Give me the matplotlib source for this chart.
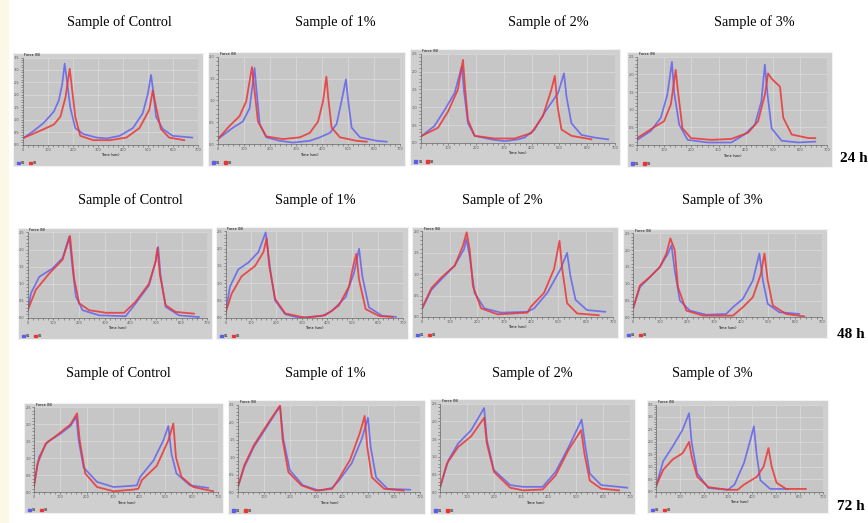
import matplotlib
matplotlib.use('Agg')
import matplotlib.pyplot as plt
from matplotlib.patches import Rectangle, Patch

# Curve readings: (time, relative force) pairs, S1 = blue, S2 = red
s1_24_ctrl = [(7, 8), (46, 16), (85, 25), (125, 38), (145, 51), (158, 69), (168, 93), (177, 73), (190, 43),
              (210, 19), (243, 12), (295, 8), (335, 7), (387, 10), (440, 19), (479, 36), (499, 58), (512, 80),
              (519, 65), (532, 32), (558, 18), (598, 10), (676, 8)]
s2_24_ctrl = [(7, 8), (72, 16), (125, 23), (151, 32), (171, 54), (188, 87), (197, 65), (210, 32), (230, 10),
              (282, 5), (348, 5), (414, 8), (466, 19), (505, 40), (519, 62), (532, 43), (551, 18), (584, 8), (644, 5)]
s1_24_1 = [(0, 6), (58, 19), (96, 26), (122, 41), (135, 72), (141, 87), (148, 63), (161, 23), (186, 8), (238, 4),
           (289, 2), (353, 4), (392, 8), (430, 13), (456, 23), (475, 49), (492, 74), (501, 49), (514, 19), (546, 8),
           (610, 4), (649, 3)]
s2_24_1 = [(0, 6), (45, 21), (83, 32), (109, 49), (122, 72), (131, 88), (141, 61), (154, 26), (186, 9), (250, 6),
           (315, 8), (353, 13), (385, 26), (404, 49), (417, 77), (424, 53), (437, 19), (469, 8), (533, 4), (572, 3)]
s1_24_2 = [(5, 8), (50, 19), (87, 37), (123, 56), (149, 86), (156, 60), (171, 22), (195, 8), (255, 4), (303, 2),
           (351, 4), (375, 6), (411, 15), (447, 34), (496, 56), (517, 78), (526, 52), (544, 22), (580, 9), (628, 6),
           (676, 4)]
s2_24_2 = [(5, 8), (63, 17), (99, 35), (135, 60), (153, 93), (161, 60), (171, 26), (195, 8), (267, 5), (339, 5),
           (399, 11), (441, 30), (472, 60), (484, 75), (494, 41), (508, 15), (544, 8), (616, 4)]
s1_24_3 = [(0, 6), (50, 16), (87, 31), (111, 57), (128, 94), (136, 60), (155, 23), (186, 6), (260, 3), (347, 3),
           (396, 12), (434, 23), (458, 49), (471, 91), (481, 57), (496, 19), (533, 5), (595, 3), (657, 4)]
s2_24_3 = [(0, 8), (50, 18), (99, 27), (124, 46), (142, 85), (149, 64), (167, 19), (198, 8), (273, 6), (347, 7),
           (409, 14), (446, 27), (471, 57), (483, 81), (496, 75), (527, 66), (539, 31), (570, 12), (632, 8), (657, 8)]

s1_48_ctrl = [(0, 9), (13, 29), (45, 48), (97, 58), (136, 70), (162, 95), (175, 58), (188, 25), (214, 9), (279, 3),
              (382, 2), (421, 17), (473, 38), (499, 66), (509, 83), (518, 50), (538, 13), (590, 3), (668, 1)]
s2_48_ctrl = [(0, 9), (32, 33), (84, 52), (136, 68), (165, 96), (181, 46), (201, 17), (240, 9), (305, 6), (376, 6),
              (421, 19), (473, 40), (499, 66), (506, 82), (516, 50), (538, 15), (577, 7), (648, 5)]
s1_48_1 = [(0, 6), (17, 36), (50, 56), (90, 64), (129, 76), (158, 99), (176, 56), (195, 20), (235, 4), (288, 0),
           (380, 2), (420, 8), (473, 24), (506, 52), (526, 80), (539, 48), (565, 12), (618, 2), (671, 1)]
s2_48_1 = [(0, 6), (24, 28), (63, 48), (116, 60), (149, 76), (162, 92), (172, 60), (195, 22), (235, 5), (314, 0),
           (394, 3), (446, 14), (486, 36), (506, 64), (515, 74), (526, 44), (552, 10), (605, 2), (658, 1)]
s1_48_2 = [(0, 10), (34, 32), (70, 44), (119, 60), (153, 79), (162, 91), (174, 71), (192, 28), (228, 10), (289, 5),
           (386, 6), (411, 10), (459, 28), (508, 56), (532, 75), (544, 48), (563, 20), (605, 8), (672, 6)]
s2_48_2 = [(0, 11), (34, 34), (70, 46), (119, 60), (149, 83), (163, 99), (174, 79), (186, 36), (216, 10), (277, 3),
           (386, 5), (399, 12), (447, 28), (484, 56), (504, 89), (514, 56), (532, 16), (569, 4), (648, 2)]
s1_48_3 = [(0, 11), (25, 36), (62, 48), (99, 60), (129, 76), (142, 86), (154, 56), (173, 20), (210, 8), (271, 3),
           (345, 4), (370, 12), (407, 22), (444, 44), (468, 76), (481, 44), (499, 16), (542, 6), (616, 4)]
s2_48_3 = [(0, 11), (25, 38), (62, 48), (99, 60), (123, 76), (138, 94), (154, 80), (166, 36), (197, 8), (259, 2),
           (370, 2), (407, 12), (444, 24), (474, 52), (487, 76), (499, 44), (518, 14), (567, 4), (635, 1)]

s1_72_ctrl = [(0, 8), (19, 41), (50, 59), (101, 69), (139, 78), (161, 89), (170, 61), (189, 29), (240, 12), (303, 6),
              (353, 7), (391, 8), (404, 18), (454, 37), (492, 61), (511, 78), (523, 45), (542, 22), (593, 8), (662, 5)]
s2_72_ctrl = [(0, 6), (13, 33), (44, 57), (95, 69), (139, 80), (164, 93), (174, 61), (195, 22), (240, 6), (303, 1),
              (378, 3), (397, 4), (410, 14), (467, 31), (511, 61), (530, 81), (540, 41), (561, 18), (606, 6), (681, 1)]
s1_72_1 = [(0, 6), (25, 29), (62, 52), (112, 75), (162, 98), (175, 60), (200, 25), (250, 8), (312, 2), (362, 5),
           (387, 13), (437, 33), (475, 60), (500, 85), (510, 52), (531, 17), (575, 4), (662, 3)]
s2_72_1 = [(0, 6), (25, 31), (62, 54), (112, 77), (162, 99), (172, 60), (194, 23), (244, 8), (300, 2), (362, 4),
           (387, 15), (431, 37), (469, 68), (487, 87), (497, 52), (515, 17), (562, 4), (637, 2)]
s1_72_2 = [(0, 6), (30, 36), (66, 55), (114, 70), (162, 95), (172, 59), (198, 25), (258, 8), (306, 6), (378, 6),
           (426, 23), (474, 51), (522, 82), (534, 55), (552, 21), (594, 8), (690, 5)]
s2_72_2 = [(0, 6), (24, 32), (66, 51), (114, 63), (162, 84), (172, 55), (198, 23), (258, 5), (306, 2), (378, 3),
           (426, 19), (474, 48), (520, 70), (532, 44), (552, 13), (594, 4), (660, 2)]
s1_72_3 = [(0, 6), (30, 35), (70, 52), (111, 71), (138, 90), (149, 56), (172, 21), (219, 4), (301, 2), (328, 8),
           (368, 33), (395, 60), (409, 75), (420, 44), (436, 13), (477, 3), (551, 3)]
s2_72_3 = [(0, 6), (30, 25), (70, 37), (111, 44), (138, 57), (149, 40), (172, 17), (219, 5), (301, 2), (341, 2),
           (368, 8), (422, 17), (450, 29), (470, 50), (483, 29), (504, 10), (544, 3), (626, 3)]

titles = ['Sample of Control', 'Sample of 1%', 'Sample of 2%', 'Sample of 3%']
row_labels = ['24 h', '48 h', '72 h']
series = [
    (s1_24_ctrl, s2_24_ctrl), (s1_24_1, s2_24_1), (s1_24_2, s2_24_2), (s1_24_3, s2_24_3),
    (s1_48_ctrl, s2_48_ctrl), (s1_48_1, s2_48_1), (s1_48_2, s2_48_2), (s1_48_3, s2_48_3),
    (s1_72_ctrl, s2_72_ctrl), (s1_72_1, s2_72_1), (s1_72_2, s2_72_2), (s1_72_3, s2_72_3),
]
y_divs = [7, 4, 5, 5, 5, 5, 4, 5, 5, 5, 5, 7]

# layout in pixels
W, H = 868, 523
boxes = [(13, 53, 203, 166), (208, 52, 405, 166), (410, 49, 620, 165), (627, 52, 832, 167),
         (18, 228, 212, 339), (216, 227, 408, 339), (412, 227, 618, 338), (623, 229, 827, 338),
         (24, 403, 223, 513), (228, 400, 425, 514), (430, 399, 635, 514), (647, 400, 828, 513)]
title_pos = [(119, 22), (335, 22), (548, 22), (754, 22),
             (130, 200), (315, 200), (502, 200), (722, 200),
             (118, 373), (325, 373), (532, 373), (712, 373)]
row_pos = [(840, 158), (837, 335), (837, 506)]

BLUE = '#5c5cf0'
RED = '#ec3434'

fig = plt.figure(figsize=(W / 100, H / 100), dpi=100)
fig.patch.set_facecolor('white')
fig.patches.append(Rectangle((0, 0), 9 / W, 1, transform=fig.transFigure,
                             fc='#fcf8e6', ec='none', zorder=-2))

for i, (x0, y0, x1, y1) in enumerate(boxes):
    w, h = x1 - x0, y1 - y0
    fig.patches.append(Rectangle((x0 / W, 1 - y1 / H), w / W, h / H, transform=fig.transFigure,
                                 fc='#cfcfcf', ec='#f2f2f2', lw=0.8, zorder=-1))
    left = x0 + 0.05 * w
    right = x0 + 0.975 * w
    top = y0 + 0.04 * h
    bottom = y0 + 0.81 * h
    ax = fig.add_axes([left / W, 1 - bottom / H, (right - left) / W, (bottom - top) / H])
    ax.set_zorder(2)
    ax.set_facecolor('#c6c6c6')

    s1, s2 = series[i]
    ax.plot([p[0] for p in s1], [p[1] for p in s1], color=BLUE, lw=1.25, alpha=0.8,
            solid_joinstyle='round')
    ax.plot([p[0] for p in s2], [p[1] for p in s2], color=RED, lw=1.3, alpha=0.85,
            solid_joinstyle='round')

    ax.set_xlim(0, 700)
    ax.set_ylim(0, 100)
    ax.set_xticks(range(0, 701, 100))
    ax.set_xticklabels([str(v) for v in range(0, 701, 100)], fontsize=2.5)
    ax.set_xticks(range(0, 701, 20), minor=True)
    n = y_divs[i]
    yt = [100 * k / n for k in range(n + 1)]
    ax.set_yticks(yt)
    ax.set_yticklabels(['%.1f' % (k * 0.5) for k in range(n + 1)], fontsize=2.5)
    ax.set_yticks([100 * k / (n * 5) for k in range(n * 5 + 1)], minor=True)
    ax.tick_params(which='both', length=1.2, width=0.4, pad=1, colors='#555555')
    ax.grid(True, which='major', color='#dcdcdc', lw=0.5)
    for side in ['top', 'right']:
        ax.spines[side].set_visible(False)
    for side in ['left', 'bottom']:
        ax.spines[side].set_color('#666666')
        ax.spines[side].set_linewidth(0.5)
    ax.set_xlabel('Time (sec)', fontsize=2.5, labelpad=1)
    ax.text(0.01, 1.01, 'Force (N)', transform=ax.transAxes, fontsize=2.5, va='bottom')
    ax.legend(handles=[Patch(color=BLUE, label='S1'), Patch(color=RED, label='S2')],
              loc='upper left', bbox_to_anchor=(-0.04, -0.17), ncol=2, fontsize=2.5,
              frameon=False, handlelength=0.8, handleheight=0.8, columnspacing=1.0,
              handletextpad=0.3, borderpad=0)

    tx, ty = title_pos[i]
    fig.text(tx / W, 1 - ty / H, titles[i % 4], ha='center', va='center',
             fontsize=10.3, family='Liberation Serif')

for lab, (rx, ry) in zip(row_labels, row_pos):
    fig.text(rx / W, 1 - ry / H, lab, ha='left', va='center', fontsize=11,
             fontweight='bold', family='Liberation Serif')

fig.savefig('out.png', dpi=100)
